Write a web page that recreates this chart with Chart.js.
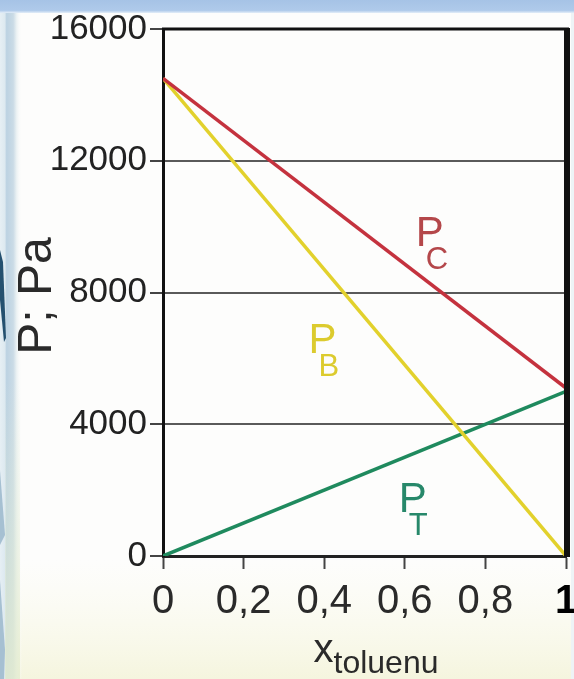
<!DOCTYPE html>
<html>
<head>
<meta charset="utf-8">
<script src="https://cdn.jsdelivr.net/npm/chart.js@4.4.1/dist/chart.umd.min.js"></script>
<style>
  html, body { margin: 0; padding: 0; width: 574px; height: 679px; overflow: hidden; background: #fff; }
  #wrap { position: relative; width: 574px; height: 679px; }
</style>
</head>
<body>
<div id="wrap"><canvas id="c"></canvas></div>
<script>
// Mole fraction of toluene in the liquid and the resulting pressures (Pa)
const xToluene = [0, 1];
const pBenzene = [14500, 0];      // P_B, partial pressure of benzene
const pToluene = [0, 5000];       // P_T, partial pressure of toluene
const pTotal   = [14500, 5100];   // P_C, total vapour pressure

const xTickValues = [0, 0.2, 0.4, 0.6, 0.8, 1];
const xTickLabels = ['0', '0,2', '0,4', '0,6', '0,8', '1'];
const yTickValues = [0, 4000, 8000, 12000, 16000];

const FONT = "'Liberation Sans', Arial, Helvetica, sans-serif";
const COLORS = { total: '#c4323e', benzene: '#e2d12c', toluene: '#1f8a5e' };

// Curve captions "P" with a subscript, anchored in data units
const curveLabels = [
  { sub: 'C', x: 0.627, y: 9400, color: '#b4474a' },
  { sub: 'B', x: 0.361, y: 6150, color: '#dccb2e' },
  { sub: 'T', x: 0.585, y: 1330, color: '#27886a' }
];

const points = (xs, ys) => xs.map((x, i) => ({ x, y: ys[i] }));

// Slide-style frame behind the chart
const backdrop = {
  id: 'backdrop',
  beforeDraw(chart) {
    const { ctx, width, height } = chart;
    ctx.save();
    ctx.fillStyle = '#fdfdfc';
    ctx.fillRect(0, 0, width, height);

    // pale warm tint toward the bottom
    let g = ctx.createLinearGradient(0, 560, 0, height);
    g.addColorStop(0, 'rgba(250,250,235,0)');
    g.addColorStop(1, 'rgba(245,245,222,1)');
    ctx.fillStyle = g;
    ctx.fillRect(0, 560, width, height - 560);

    // top band
    g = ctx.createLinearGradient(0, 0, 0, 13);
    g.addColorStop(0, '#a6c3e6');
    g.addColorStop(0.8, '#afcaea');
    g.addColorStop(1, '#e4eef8');
    ctx.fillStyle = g;
    ctx.fillRect(0, 0, width, 13);

    // left band
    g = ctx.createLinearGradient(0, 0, 22, 0);
    g.addColorStop(0, '#e6eff4');
    g.addColorStop(0.22, '#dde9f0');
    g.addColorStop(0.3, '#bcd2e2');
    g.addColorStop(0.6, '#cadbe6');
    g.addColorStop(0.75, '#eaf1f3');
    g.addColorStop(1, 'rgba(253,253,252,0)');
    ctx.fillStyle = g;
    ctx.fillRect(0, 13, 22, height - 13);

    // lower part of the left band turns greenish
    g = ctx.createLinearGradient(0, 380, 0, height);
    g.addColorStop(0, 'rgba(225,235,215,0)');
    g.addColorStop(1, 'rgba(228,236,205,0.8)');
    ctx.fillStyle = g;
    ctx.fillRect(5, 380, 15, height - 380);

    // dark swoosh and lighter wedges on the very left
    ctx.fillStyle = '#24506f';
    ctx.beginPath();
    ctx.moveTo(0, 250); ctx.lineTo(3, 262); ctx.lineTo(6, 338); ctx.lineTo(4, 342); ctx.lineTo(0, 300);
    ctx.closePath(); ctx.fill();
    ctx.fillStyle = '#a6c0d2';
    ctx.beginPath();
    ctx.moveTo(0, 470); ctx.lineTo(5, 535); ctx.lineTo(0, 545);
    ctx.closePath(); ctx.fill();
    ctx.beginPath();
    ctx.moveTo(0, 580); ctx.lineTo(5, 650); ctx.lineTo(4, 679); ctx.lineTo(0, 679);
    ctx.closePath(); ctx.fill();

    // right edge
    ctx.fillStyle = '#eef3f6';
    ctx.fillRect(571, 13, 3, height - 13);
    ctx.restore();
  }
};

// Frame pieces, captions and axis titles with subscripts
const decorations = {
  id: 'decorations',
  afterDatasetsDraw(chart) {
    const { ctx, chartArea: a, scales } = chart;
    ctx.save();
    // top border
    ctx.strokeStyle = '#111';
    ctx.lineWidth = 3;
    ctx.beginPath(); ctx.moveTo(a.left - 1, a.top); ctx.lineTo(a.right + 3, a.top); ctx.stroke();
    // heavy right border
    ctx.lineWidth = 6;
    ctx.beginPath(); ctx.moveTo(a.right + 1, a.top - 1); ctx.lineTo(a.right + 1, a.bottom + 1); ctx.stroke();

    // curve captions
    ctx.textBaseline = 'alphabetic';
    ctx.textAlign = 'left';
    curveLabels.forEach(l => {
      const px = scales.x.getPixelForValue(l.x);
      const py = scales.y.getPixelForValue(l.y);
      ctx.fillStyle = l.color;
      ctx.font = `42px ${FONT}`;
      ctx.fillText('P', px, py);
      ctx.font = `31px ${FONT}`;
      ctx.fillText(l.sub, px + 10, py + 23);
    });

    // x-axis title: x with subscript
    const cx = (a.left + a.right) / 2;
    ctx.fillStyle = '#2a2a2a';
    ctx.font = `40px ${FONT}`;
    ctx.fillText('x', cx - 51, 662);
    ctx.font = `32px ${FONT}`;
    ctx.fillText('toluenu', cx - 31, 673);

    // y-axis title, reading upward
    ctx.translate(38, 296);
    ctx.rotate(-Math.PI / 2);
    ctx.textAlign = 'center';
    ctx.textBaseline = 'middle';
    ctx.font = `48px ${FONT}`;
    ctx.fillText('P; Pa', 0, 0);
    ctx.restore();
  }
};

new Chart(document.getElementById('c'), {
  type: 'scatter',
  data: {
    datasets: [
      { label: 'P_C', data: points(xToluene, pTotal), borderColor: COLORS.total },
      { label: 'P_B', data: points(xToluene, pBenzene), borderColor: COLORS.benzene },
      { label: 'P_T', data: points(xToluene, pToluene), borderColor: COLORS.toluene }
    ].map(d => Object.assign(d, { showLine: true, borderWidth: 3.5, pointRadius: 0, fill: false }))
  },
  options: {
    responsive: true,
    maintainAspectRatio: false,
    animation: false,
    layout: { padding: { top: 29, right: 8, left: 0, bottom: 0 } },
    plugins: { legend: { display: false }, tooltip: { enabled: false } },
    scales: {
      x: {
        type: 'linear', min: 0, max: 1,
        afterBuildTicks: s => { s.ticks = xTickValues.map(v => ({ value: v })); },
        afterFit: s => { s.height = 123; s.paddingLeft = 0; s.paddingRight = 0; },
        ticks: {
          padding: 9,
          color: ctx => ctx.index === xTickValues.length - 1 ? '#000' : '#2a2a2a',
          font: ctx => ({ family: FONT, size: 40, weight: ctx.index === xTickValues.length - 1 ? 'bold' : 'normal' }),
          callback: (v, i) => xTickLabels[i]
        },
        grid: { drawOnChartArea: false, tickLength: 13, tickColor: '#444', tickWidth: 2 },
        border: { display: true, color: '#222', width: 3 }
      },
      y: {
        min: 0, max: 16000,
        afterBuildTicks: s => { s.ticks = yTickValues.map(v => ({ value: v })); },
        afterFit: s => { s.width = 163; s.paddingTop = 0; s.paddingBottom = 0; },
        ticks: {
          padding: 3,
          color: '#222',
          font: { family: FONT, size: 35 },
          callback: v => String(v)
        },
        grid: {
          color: ctx => (ctx.tick && (ctx.tick.value === 0 || ctx.tick.value === 16000)) ? 'rgba(0,0,0,0)' : '#5a5a5a',
          lineWidth: 2,
          tickLength: 13,
          tickColor: '#444',
          tickWidth: 2
        },
        border: { display: true, color: '#111', width: 3 }
      }
    }
  },
  plugins: [backdrop, decorations]
});
</script>
</body>
</html>
